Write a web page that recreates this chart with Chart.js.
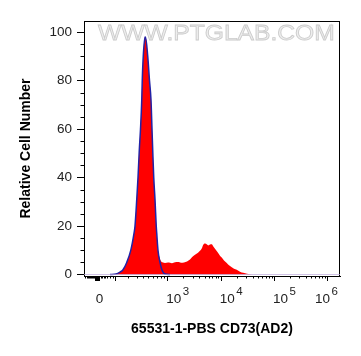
<!DOCTYPE html>
<html>
<head>
<meta charset="utf-8">
<script src="https://cdn.jsdelivr.net/npm/chart.js@4.4.1/dist/chart.umd.min.js"></script>
<style>
  body { margin: 0; background: #fff; }
  #wrap { width: 361px; height: 356px; }
</style>
</head>
<body>
<div id="wrap"><canvas id="histChart" width="361" height="356"></canvas></div>
<script>
// x is the display channel (0-1024) of the biexponential axis
const sampleChannel = [0, 104, 128, 144, 156, 171, 187, 200, 204, 211, 216, 221, 226, 231, 233, 237, 244, 246,
  255, 262, 268, 272, 275, 279, 284, 289, 292, 296, 302, 308, 316, 324, 336, 352, 364, 376, 388, 400, 412, 424,
  436, 444, 456, 464, 472, 477, 484, 492, 497, 504, 511, 518, 524, 536, 544, 551, 560, 571, 580, 591, 600, 611,
  624, 637, 652, 664, 684, 1024];
const sampleCount = [0, 0, 0.2, 1, 2, 5, 10, 17, 20, 31, 40, 51, 60, 72, 80, 90, 98, 98,
  90, 80, 72, 60, 51, 40, 31, 20, 15, 10, 7, 5.5, 5, 4.8, 5, 4.7, 5.1, 5.2, 4.9, 5, 5.4, 6.2,
  7.5, 8.2, 9, 9.8, 11, 12.3, 12.8, 12.4, 12, 12.4, 12.5, 11.5, 10.6, 9, 7.8, 7, 5.8, 4.8, 3.8, 3, 2.4, 2,
  1.2, 0.7, 0.3, 0.1, 0, 0];

const controlChannel = [104, 128, 144, 156, 171, 187, 200, 204, 211, 216, 221, 226, 231, 233, 237, 244, 246,
  255, 262, 268, 272, 275, 279, 284, 289, 291, 296, 304, 310, 316, 324, 344];
const controlCount = [0, 0.2, 1, 2, 5, 10, 17, 20, 31, 40, 51, 60, 72, 80, 90, 98, 98,
  90, 80, 72, 60, 51, 40, 31, 20, 17, 10, 5, 2.5, 1, 0.2, 0];

const xTickValues = [51, 124, 333, 547, 760, 972];
const xTickBase = ['0', '', '10', '10', '10', '10'];
const xTickExp = ['', '', '3', '4', '5', '6'];
const xNearZeroTicks = [4, 10, 14, 18, 22, 26, 30, 34, 38, 42, 46, 58, 66, 72, 78, 84, 92, 102, 114];
const xLowDecadeTicks = [177, 211, 237, 257, 277, 293, 308, 320];

const yTickValues = [0, 20, 40, 60, 80, 100];
const yMinorTicks = [5, 10, 15, 25, 30, 35, 45, 50, 55, 65, 70, 75, 85, 90, 95];

const toXY = (xs, ys) => xs.map((x, i) => ({ x: x, y: ys[i] }));

const axisExtras = {
  id: 'axisExtras',
  beforeDatasetsDraw(chart) {
    const { ctx, chartArea } = chart;
    ctx.save();
    ctx.font = '22px "Liberation Sans", Arial, sans-serif';
    ctx.fillStyle = '#eeeeee';
    ctx.strokeStyle = '#cccccc';
    ctx.lineWidth = 0.8;
    ctx.textBaseline = 'alphabetic';
    ctx.translate(chartArea.left + 14, 40);
    ctx.scale(1.12, 1);
    ctx.fillText('WWW.PTGLAB.COM', 0, 0);
    ctx.strokeText('WWW.PTGLAB.COM', 0, 0);
    ctx.restore();
  },
  afterDraw(chart) {
    const { ctx, chartArea } = chart;
    const xs = chart.scales.x;
    const ys = chart.scales.y;
    ctx.save();
    ctx.strokeStyle = '#000';
    ctx.lineWidth = 1;
    ctx.strokeRect(chartArea.left + 0.5, chartArea.top + 0.5, chartArea.right - chartArea.left - 1, chartArea.bottom - chartArea.top);

    // faint baseline of the histogram outline
    ctx.strokeStyle = 'rgba(190, 170, 220, 0.7)';
    ctx.beginPath();
    ctx.moveTo(chartArea.left, chartArea.bottom - 1.5);
    ctx.lineTo(chartArea.right, chartArea.bottom - 1.5);
    ctx.stroke();
    ctx.strokeStyle = '#000';

    const base = chartArea.bottom;
    const tick = (v, len, w) => {
      const px = Math.round(xs.getPixelForValue(v)) + 0.5;
      ctx.lineWidth = w;
      ctx.beginPath();
      ctx.moveTo(px, base);
      ctx.lineTo(px, base + len);
      ctx.stroke();
    };
    const minors = xNearZeroTicks.concat(xLowDecadeTicks);
    for (let i = 2; i < xTickValues.length - 1; i++) {
      const a = xTickValues[i], b = xTickValues[i + 1];
      for (let k = 2; k <= 9; k++) minors.push(a + (b - a) * Math.log10(k));
    }
    minors.forEach(v => tick(v, 2.5, 1));
    xTickValues.forEach((v, i) => tick(v, 5, i === 0 ? 5 : 1));

    yMinorTicks.forEach(v => {
      const py = Math.round(ys.getPixelForValue(v)) + 0.5;
      ctx.lineWidth = 1;
      ctx.beginPath();
      ctx.moveTo(chartArea.left - 3.5, py);
      ctx.lineTo(chartArea.left, py);
      ctx.stroke();
    });

    ctx.fillStyle = '#222';
    ctx.textBaseline = 'alphabetic';
    xTickValues.forEach((v, i) => {
      if (!xTickBase[i]) return;
      ctx.font = '13.5px "Liberation Sans", Arial, sans-serif';
      const bw = ctx.measureText(xTickBase[i]).width;
      ctx.font = '11.5px "Liberation Sans", Arial, sans-serif';
      const ew = xTickExp[i] ? ctx.measureText(xTickExp[i]).width + 1.5 : 0;
      let px = xs.getPixelForValue(v) - 1;
      if (px + bw + ew > chartArea.right - 2) px = chartArea.right - 2 - bw - ew;
      ctx.font = '13.5px "Liberation Sans", Arial, sans-serif';
      ctx.fillText(xTickBase[i], px, 303);
      if (xTickExp[i]) {
        ctx.font = '11.5px "Liberation Sans", Arial, sans-serif';
        ctx.fillText(xTickExp[i], px + bw + 1.5, 295);
      }
    });
    ctx.restore();
  }
};

new Chart(document.getElementById('histChart'), {
  type: 'line',
  data: {
    datasets: [
      {
        label: 'Control',
        data: toXY(controlChannel, controlCount),
        borderColor: '#2222a6',
        borderWidth: 1.5,
        fill: false,
        pointRadius: 0,
        cubicInterpolationMode: 'monotone',
        order: 0,
      },
      {
        label: '65531-1-PBS',
        data: toXY(sampleChannel, sampleCount),
        borderColor: '#ff0000',
        backgroundColor: '#ff0000',
        borderWidth: 0,
        fill: 'origin',
        pointRadius: 0,
        cubicInterpolationMode: 'monotone',
        order: 1,
      },
    ],
  },
  options: {
    responsive: false,
    animation: false,
    devicePixelRatio: 1,
    layout: { padding: { left: 0, right: 21, top: 21, bottom: 0 } },
    plugins: { legend: { display: false }, tooltip: { enabled: false } },
    scales: {
      x: {
        type: 'linear',
        min: 0,
        max: 1024,
        afterBuildTicks: s => { s.ticks = xTickValues.map(v => ({ value: v })); },
        afterFit: s => { s.height = 80; },
        ticks: { display: false },
        grid: { display: false },
        border: { display: true, color: '#000', width: 1 },
        title: {
          display: true,
          text: '65531-1-PBS CD73(AD2)',
          color: '#000',
          font: { family: '"Liberation Sans", Arial, sans-serif', size: 14, weight: 'bold' },
          padding: { top: 0, bottom: 18 },
        },
      },
      y: {
        type: 'linear',
        min: -0.6,
        max: 104.6,
        afterBuildTicks: s => { s.ticks = yTickValues.map(v => ({ value: v })); },
        afterFit: s => { s.width = 84; },
        ticks: {
          color: '#222',
          padding: 5,
          font: { family: '"Liberation Sans", Arial, sans-serif', size: 13.5 },
        },
        grid: { drawOnChartArea: false, drawTicks: true, tickLength: 7, color: '#000' },
        border: { display: true, color: '#000', width: 1 },
        title: {
          display: true,
          text: 'Relative Cell Number',
          color: '#000',
          font: { family: '"Liberation Sans", Arial, sans-serif', size: 14, weight: 'bold' },
          padding: { top: 18, bottom: 0 },
        },
      },
    },
  },
  plugins: [axisExtras],
});
</script>
</body>
</html>
